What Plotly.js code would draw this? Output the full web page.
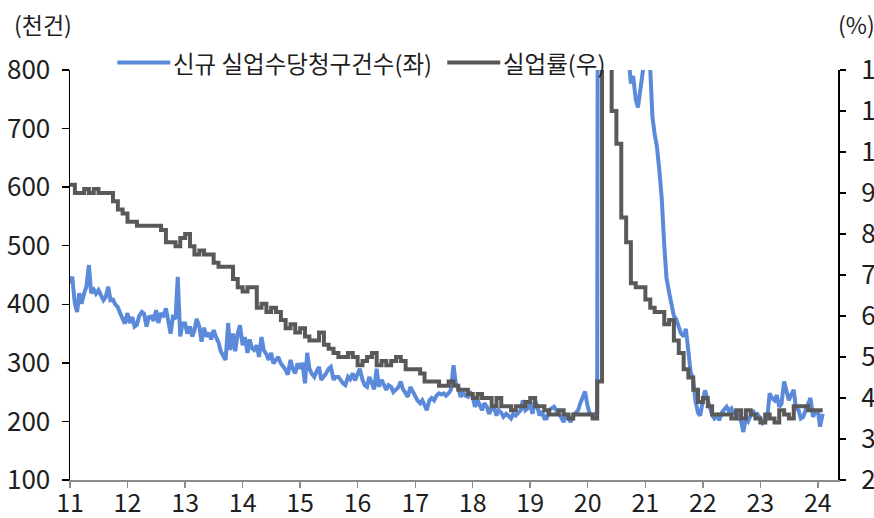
<!DOCTYPE html>
<html>
<head>
<meta charset="utf-8">
<script src="https://cdn.plot.ly/plotly-3.0.1.min.js"></script>
<style>
  html, body { margin: 0; padding: 0; background: #ffffff; }
  #chart { width: 874px; height: 518px; }
</style>
</head>
<body>
<div id="chart"></div>
<script>
// ---------- DATA ----------
// Labels
const seriesClaimsName = '신규 실업수당청구건수(좌)';
const seriesRateName = '실업률(우)';
const leftUnit = '(천건)';
const rightUnit = '(%)';
const yearTickDates = ['2011-01-01','2012-01-01','2013-01-01','2014-01-01','2015-01-01','2016-01-01','2017-01-01',
                       '2018-01-01','2019-01-01','2020-01-01','2021-01-01','2022-01-01','2023-01-01','2024-01-01'];
const yearTickLabels = ['11','12','13','14','15','16','17','18','19','20','21','22','23','24'];

// Initial jobless claims (thousands), semi-monthly readings (1st and 15th of each month)
const claims2011 = [436,447,401,387,419,401,419,430,467,419,425,418,424,416,407,412,430,407,408,400,395,385,375,367];
const claims2012 = [385,368,378,362,365,380,387,384,362,378,379,372,390,368,385,378,393,370,350,378,375,447,345,367];
const claims2013 = [367,350,362,345,355,375,362,336,360,345,351,340,356,345,335,320,310,305,368,322,350,320,350,364];
const claims2014 = [330,344,317,340,325,322,330,310,344,322,315,305,317,299,305,310,299,295,288,280,305,290,282,299];
const claims2015 = [290,300,265,317,290,282,276,285,293,271,276,282,290,293,271,276,276,270,265,262,276,272,282,270];
const claims2016 = [280,290,271,262,259,276,265,255,290,259,271,262,254,262,259,250,254,258,268,255,248,242,259,252];
const claims2017 = [240,236,231,236,228,219,236,240,236,244,248,246,248,244,248,254,296,265,259,242,248,244,242,251];
const claims2018 = [242,225,236,228,219,231,225,213,222,225,210,219,215,208,213,210,205,213,210,214,219,236,219,222];
const claims2019 = [231,213,236,225,210,218,205,205,219,222,225,219,214,208,199,210,205,199,210,215,219,231,240,251];
const claims2020 = [225,213,210,212,215,2900,6200,4300,2850,2200,1600,1450,1300,1250,1100,900,870,830,777,790,750,736,765,785];
const claims2021 = [830,900,810,720,690,670,625,580,500,445,420,400,380,375,360,350,345,358,320,285,270,235,215,210];
const claims2022 = [235,253,236,220,211,205,210,202,215,220,225,218,222,212,218,208,200,182,205,200,210,219,208,212];
const claims2023 = [205,197,200,208,248,240,236,245,225,230,268,255,236,245,254,222,219,205,208,219,230,240,208,215];
const claims2024 = [219,191,213];

// Unemployment rate (%), monthly
const rate2011 = [9.2,9.0,9.0,9.1,9.0,9.1,9.0,9.0,9.0,8.8,8.6,8.5];
const rate2012 = [8.3,8.3,8.2,8.2,8.2,8.2,8.2,8.1,7.8,7.8,7.7,7.9];
const rate2013 = [8.0,7.7,7.5,7.6,7.5,7.5,7.3,7.2,7.2,7.2,6.9,6.7];
const rate2014 = [6.6,6.7,6.7,6.2,6.3,6.1,6.2,6.1,5.9,5.7,5.8,5.6];
const rate2015 = [5.7,5.5,5.4,5.4,5.6,5.3,5.2,5.1,5.0,5.0,5.1,5.0];
const rate2016 = [4.8,4.9,5.0,5.1,4.8,4.9,4.8,4.9,5.0,4.9,4.7,4.7];
const rate2017 = [4.7,4.6,4.4,4.4,4.4,4.3,4.3,4.4,4.3,4.2,4.2,4.1];
const rate2018 = [4.0,4.1,4.0,4.0,3.8,4.0,3.8,3.8,3.7,3.8,3.8,3.9];
const rate2019 = [4.0,3.8,3.8,3.7,3.6,3.6,3.7,3.6,3.5,3.6,3.6,3.6];
const rate2020 = [3.6,3.5,4.4,14.7,13.3,11.0,10.2,8.4,7.8,6.8,6.7,6.7];
const rate2021 = [6.4,6.2,6.1,6.1,5.8,5.9,5.4,5.1,4.7,4.5,4.2,3.9];
const rate2022 = [4.0,3.8,3.6,3.6,3.6,3.6,3.5,3.7,3.5,3.7,3.6,3.5];
const rate2023 = [3.4,3.6,3.5,3.4,3.7,3.6,3.5,3.8,3.8,3.8,3.7,3.7];
const rate2024 = [3.7,3.7];

// ---------- BUILD ----------
const claimsValues = [].concat(claims2011,claims2012,claims2013,claims2014,claims2015,claims2016,claims2017,
  claims2018,claims2019,claims2020,claims2021,claims2022,claims2023,claims2024);
const rateValues = [].concat(rate2011,rate2012,rate2013,rate2014,rate2015,rate2016,rate2017,
  rate2018,rate2019,rate2020,rate2021,rate2022,rate2023,rate2024);

function pad(n){ return (n < 10 ? '0' : '') + n; }
const claimsDates = [];
for (let y = 2011; claimsDates.length < claimsValues.length; y++) {
  for (let m = 1; m <= 12 && claimsDates.length < claimsValues.length; m++) {
    claimsDates.push(y + '-' + pad(m) + '-01');
    if (claimsDates.length < claimsValues.length) claimsDates.push(y + '-' + pad(m) + '-15');
  }
}
const rateDates = [];
for (let y = 2011; rateDates.length < rateValues.length; y++) {
  for (let m = 1; m <= 12 && rateDates.length < rateValues.length; m++) {
    rateDates.push(y + '-' + pad(m) + '-01');
  }
}

const BLUE = '#5a8ad9';
const GRAY = '#595959';
const TXT = '#1e1e1e';
const KR = '"Noto Sans CJK KR", "Noto Sans", sans-serif';

const traces = [
  { type: 'scatter', mode: 'lines', name: seriesClaimsName, x: claimsDates, y: claimsValues,
    line: { color: BLUE, width: 4 }, yaxis: 'y', hoverinfo: 'skip' },
  { type: 'scatter', mode: 'lines', name: seriesRateName, x: rateDates, y: rateValues,
    line: { color: GRAY, width: 4, shape: 'hv' }, yaxis: 'y2', hoverinfo: 'skip' }
];

const plotL = 69.7, plotR = 837.8, plotT = 69.5, plotB = 480;
const W = 874, H = 518;
const pw = plotR - plotL, ph = plotB - plotT;
function px2x(px){ return (px - plotL) / pw; }
function px2y(py){ return (plotB - py) / ph; }

const legY = px2y(62);

const layout = {
  width: W, height: H,
  margin: { l: plotL, r: W - plotR, t: plotT, b: H - plotB, pad: 0 },
  paper_bgcolor: '#ffffff', plot_bgcolor: '#ffffff',
  showlegend: false,
  font: { family: KR, color: TXT },
  xaxis: {
    type: 'date', range: ['2011-01-01', '2024-05-08'],
    tickmode: 'array', tickvals: yearTickDates, ticktext: yearTickLabels,
    ticks: 'outside', ticklen: 6, tickwidth: 1.5, tickcolor: '#8c8c8c',
    showline: true, linecolor: '#8c8c8c', linewidth: 2,
    showgrid: false, zeroline: false,
    ticklabelstandoff: -6,
    tickfont: { family: KR, size: 25, color: TXT }
  },
  yaxis: {
    range: [100, 800], tick0: 100, dtick: 100,
    ticks: 'outside', ticklen: 7, tickwidth: 1.5, tickcolor: '#000',
    showline: true, linecolor: '#000', linewidth: 1.5,
    showgrid: false, zeroline: false,
    ticklabelstandoff: 6,
    tickfont: { family: KR, size: 26, color: TXT }
  },
  yaxis2: {
    overlaying: 'y', side: 'right',
    range: [2, 12], tick0: 2, dtick: 1,
    ticks: 'outside', ticklen: 6, tickwidth: 1.5, tickcolor: '#000',
    showline: true, linecolor: '#000', linewidth: 2,
    showgrid: false, zeroline: false,
    ticklabelstandoff: 10,
    tickfont: { family: KR, size: 26, color: TXT }
  },
  shapes: [
    { type: 'line', xref: 'paper', yref: 'paper', x0: px2x(117), x1: px2x(170), y0: legY, y1: legY,
      line: { color: BLUE, width: 4 } },
    { type: 'line', xref: 'paper', yref: 'paper', x0: px2x(447), x1: px2x(500), y0: legY, y1: legY,
      line: { color: GRAY, width: 4 } }
  ],
  annotations: [
    { xref: 'paper', yref: 'paper', x: px2x(171), y: legY, xanchor: 'left', yanchor: 'middle',
      text: seriesClaimsName, showarrow: false, font: { family: KR, size: 23.5, color: TXT } },
    { xref: 'paper', yref: 'paper', x: px2x(501), y: legY, xanchor: 'left', yanchor: 'middle',
      text: seriesRateName, showarrow: false, font: { family: KR, size: 23.5, color: TXT } },
    { xref: 'paper', yref: 'paper', x: px2x(43), y: px2y(23), xanchor: 'center', yanchor: 'middle',
      text: leftUnit, showarrow: false, font: { family: KR, size: 23, color: TXT } },
    { xref: 'paper', yref: 'paper', x: px2x(856), y: px2y(23), xanchor: 'center', yanchor: 'middle',
      text: rightUnit, showarrow: false, font: { family: KR, size: 23, color: TXT } }
  ]
};

Plotly.newPlot('chart', traces, layout, { displayModeBar: false, staticPlot: true });
</script>
</body>
</html>
